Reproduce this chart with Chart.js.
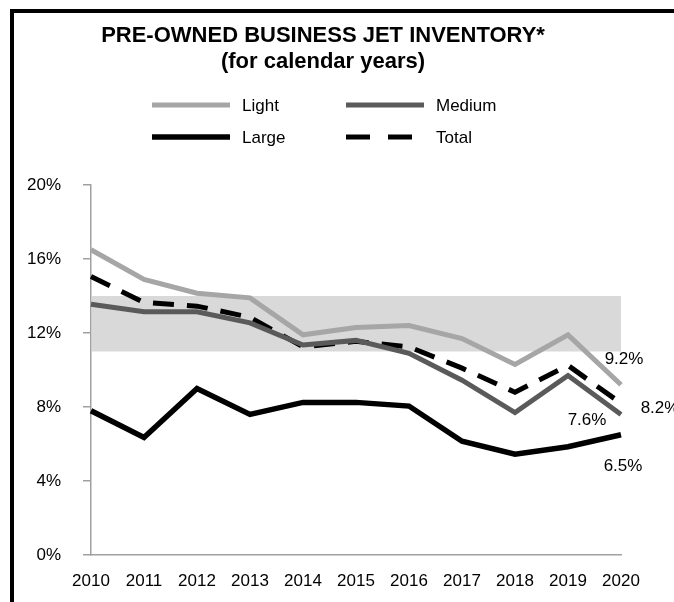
<!DOCTYPE html>
<html>
<head>
<meta charset="utf-8">
<script src="https://cdn.jsdelivr.net/npm/chart.js@4/dist/chart.umd.min.js"></script>
<style>
  html, body { margin: 0; padding: 0; background: #fff; }
  #wrap { width: 674px; height: 602px; position: relative; }
</style>
</head>
<body>
<div id="wrap"><canvas id="c" width="674" height="602"></canvas></div>
<script>
// Years on the x axis
const years = ['2010','2011','2012','2013','2014','2015','2016','2017','2018','2019','2020'];

// Pre-owned inventory as a share of the fleet (%)
const light  = [16.5, 14.9, 14.15, 13.9, 11.9, 12.3, 12.4, 11.7, 10.3, 11.9, 9.2];
const medium = [13.55, 13.15, 13.15, 12.55, 11.35, 11.6, 10.9, 9.45, 7.7, 9.7, 7.6];
const large  = [7.8, 6.35, 9.0, 7.6, 8.25, 8.25, 8.05, 6.15, 5.45, 5.85, 6.5];
const total  = [15.05, 13.65, 13.45, 12.85, 11.25, 11.55, 11.25, 10.1, 8.8, 10.25, 8.2];

// Shaded reference range (%)
const bandRange = [11, 14];

// Y axis ticks (%)
const yTicks = [0, 4, 8, 12, 16, 20];

const FONT = '"Liberation Sans", Arial, sans-serif';

// Frame, shaded band, titles and legend
const decor = {
  id: 'decor',
  beforeDraw(chart) {
    const ctx = chart.ctx;
    ctx.save();
    ctx.fillStyle = '#fff';
    ctx.fillRect(0, 0, chart.width, chart.height);
    ctx.fillStyle = '#000';
    ctx.fillRect(10, 9, chart.width - 10, 4);
    ctx.fillRect(10, 9, 4, chart.height - 9);
    ctx.restore();
  },
  beforeDatasetsDraw(chart) {
    const ctx = chart.ctx, y = chart.scales.y, a = chart.chartArea;
    const top = y.getPixelForValue(bandRange[1]);
    const bot = y.getPixelForValue(bandRange[0]);
    ctx.save();
    ctx.fillStyle = '#d9d9d9';
    ctx.fillRect(a.left + 1, top, a.right - a.left - 1, bot - top);
    ctx.restore();
  },
  afterDraw(chart) {
    const ctx = chart.ctx;
    ctx.save();
    ctx.fillStyle = '#000';
    ctx.textAlign = 'center';
    ctx.textBaseline = 'alphabetic';
    ctx.font = 'bold 22px ' + FONT;
    ctx.fillText('PRE-OWNED BUSINESS JET INVENTORY*', 323, 42);
    ctx.fillText('(for calendar years)', 323, 68);

    // legend: two columns, two rows
    const slots = [[152, 105], [346, 105], [152, 137], [346, 137]];
    const order = [0, 1, 2, 3];
    ctx.font = '17px ' + FONT;
    ctx.textAlign = 'left';
    ctx.textBaseline = 'middle';
    order.forEach((di, i) => {
      const ds = chart.data.datasets[di];
      const [x, yy] = slots[i];
      ctx.save();
      ctx.strokeStyle = ds.borderColor;
      ctx.lineWidth = ds.borderWidth;
      if (ds.borderDash) ctx.setLineDash([24, 18]);
      ctx.beginPath();
      ctx.moveTo(x, yy);
      ctx.lineTo(x + (ds.borderDash ? 66 : 78), yy);
      ctx.stroke();
      ctx.restore();
      ctx.fillStyle = '#000';
      ctx.fillText(ds.label, x + 90, yy + 1);
    });

    // end-of-series value labels
    const lblOffsets = [[3, -25], [-34, 6], [2, 32], [39, 5]];
    ctx.textAlign = 'center';
    ctx.font = '17px ' + FONT;
    chart.data.datasets.forEach((ds, i) => {
      const meta = chart.getDatasetMeta(i);
      const pt = meta.data[meta.data.length - 1];
      const v = ds.data[ds.data.length - 1];
      ctx.fillText(v.toFixed(1) + '%', pt.x + lblOffsets[i][0], pt.y + lblOffsets[i][1]);
    });
    ctx.restore();
  }
};

new Chart(document.getElementById('c'), {
  type: 'line',
  data: {
    labels: years,
    datasets: [
      { label: 'Light',  data: light,  borderColor: '#a6a6a6', borderWidth: 5 },
      { label: 'Medium', data: medium, borderColor: '#5a5a5a', borderWidth: 5 },
      { label: 'Large',  data: large,  borderColor: '#000000', borderWidth: 5.5 },
      { label: 'Total',  data: total,  borderColor: '#000000', borderWidth: 5, borderDash: [21, 13] }
    ]
  },
  options: {
    responsive: false,
    animation: false,
    devicePixelRatio: 1,
    layout: { padding: { left: 0, top: 185, right: 53, bottom: 0 } },
    elements: {
      point: { radius: 0, hoverRadius: 0 },
      line: { tension: 0, fill: false, borderCapStyle: 'butt', borderJoinStyle: 'miter' }
    },
    plugins: {
      legend: { display: false },
      title: { display: false },
      tooltip: { enabled: false }
    },
    scales: {
      x: {
        offset: false,
        grid: { display: false, drawTicks: false },
        border: { display: true, color: '#a0a0a0', width: 1.5 },
        ticks: { color: '#000', font: { family: FONT, size: 17 }, padding: 16, maxRotation: 0, autoSkip: false },
        afterFit(s) { s.height = 47; }
      },
      y: {
        min: 0, max: 20,
        afterBuildTicks(s) { s.ticks = yTicks.map(v => ({ value: v })); },
        grid: { drawOnChartArea: false, drawTicks: true, tickLength: 8, color: '#a0a0a0', lineWidth: 1.5 },
        border: { display: true, color: '#a0a0a0', width: 1.5 },
        ticks: { color: '#000', font: { family: FONT, size: 17 }, padding: 22, callback: v => v + '%' },
        afterFit(s) { s.width = 91; }
      }
    }
  },
  plugins: [decor]
});
</script>
</body>
</html>
